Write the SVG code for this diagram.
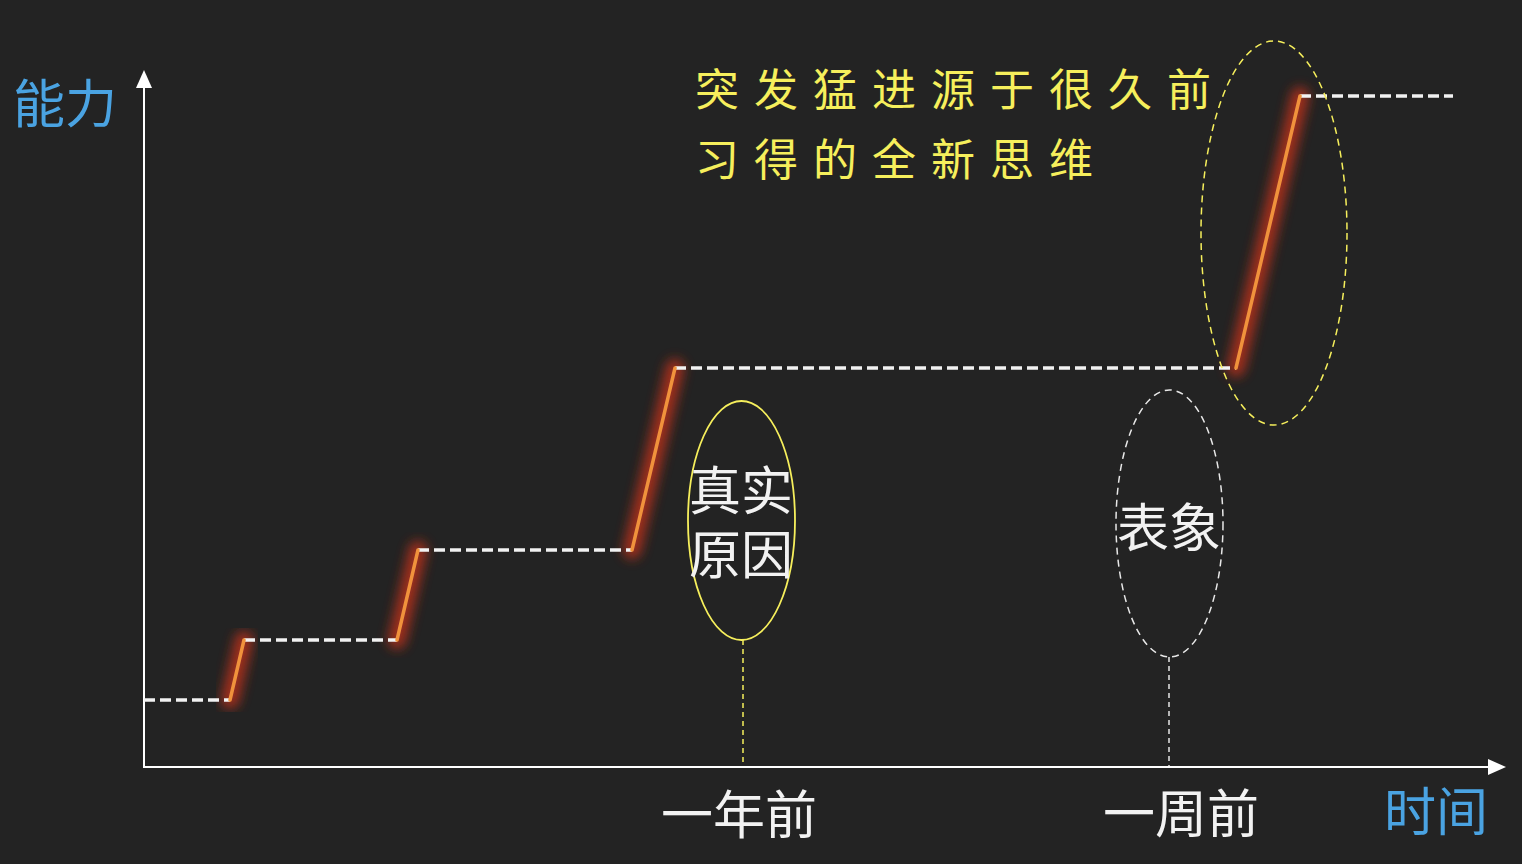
<svg xmlns="http://www.w3.org/2000/svg" width="1522" height="864" viewBox="0 0 1522 864">
<style>
.dash{stroke:#f2f2f2;stroke-width:3.5;stroke-dasharray:11 5;fill:none}
.rise{stroke:#f0923c;stroke-width:3.5;stroke-linecap:round;fill:none}
.glow{stroke:#b8301a;stroke-width:18;stroke-linecap:round;fill:none;opacity:0.85;filter:url(#blur)}
.axis{stroke:#ffffff;stroke-width:2;fill:none}
.cjk{font-family:"Noto Sans CJK SC","Noto Sans",sans-serif}
.blue{fill:#4aa3e2;font-size:52px}
.white{fill:#f2f2f2;font-size:52px}
.yel{fill:#f6ef5c;font-size:44px;letter-spacing:15px}
</style>
<defs>
<filter id="blur" x="-100%" y="-20%" width="300%" height="140%"><feGaussianBlur stdDeviation="6"/></filter>
</defs>
<rect width="1522" height="864" fill="#232323"/>
<g id="axes">
<line class="axis" x1="144" y1="84" x2="144" y2="767"/>
<polygon points="144,70 136,88 152,88" fill="#ffffff"/>
<line class="axis" x1="143" y1="767" x2="1492" y2="767"/>
<polygon points="1506,767 1488,759 1488,775" fill="#ffffff"/>
</g>
<g id="connectors">
<g id="glows">
<line class="glow" x1="230" y1="700" x2="244" y2="640"/>
<line class="glow" x1="397" y1="640" x2="418" y2="550"/>
<line class="glow" x1="632" y1="550" x2="675" y2="368"/>
<line class="glow" x1="1236" y1="368" x2="1300" y2="96"/>
</g>
<line class="dash" x1="144" y1="700" x2="230" y2="700"/>
<line class="dash" x1="244" y1="640" x2="397" y2="640"/>
<line class="dash" x1="418" y1="550" x2="632" y2="550"/>
<line class="dash" x1="675" y1="368" x2="1236" y2="368"/>
<line class="dash" x1="1300" y1="96" x2="1453" y2="96"/>
<line class="rise" x1="230" y1="700" x2="244" y2="640"/>
<line class="rise" x1="397" y1="640" x2="418" y2="550"/>
<line class="rise" x1="632" y1="550" x2="675" y2="368"/>
<line class="rise" x1="1236" y1="368" x2="1300" y2="96"/>
<line x1="743" y1="640" x2="743" y2="766" stroke="#f6ef5c" stroke-width="1.5" stroke-dasharray="5 4"/>
<line x1="1169" y1="657" x2="1169" y2="766" stroke="#e8e8e8" stroke-width="1.5" stroke-dasharray="5 4"/>
</g>
<g id="label-ability"><text class="cjk blue" x="13" y="123">能力</text></g>
<g id="label-time"><text class="cjk blue" x="1384" y="831">时间</text></g>
<g id="label-year"><text class="cjk white" x="661" y="834">一年前</text></g>
<g id="label-week"><text class="cjk white" x="1103" y="833">一周前</text></g>
<g id="note">
<text class="cjk yel" x="695" y="106">突发猛进源于很久前</text>
<text class="cjk yel" x="695" y="176">习得的全新思维</text>
</g>
<g id="node-real-cause">
<ellipse cx="741.5" cy="520.5" rx="53.5" ry="119.5" fill="none" stroke="#f6ef5c" stroke-width="1.8"/>
<text class="cjk white" text-anchor="middle" font-size="52"><tspan x="741" y="510">真实</tspan><tspan x="741" y="574">原因</tspan></text>
</g>
<g id="node-appearance">
<ellipse cx="1169.5" cy="523.5" rx="53.5" ry="133.5" fill="none" stroke="#e8e8e8" stroke-width="1.5" stroke-dasharray="7 5"/>
<text class="cjk white" x="1169" y="547" text-anchor="middle" font-size="52">表象</text>
</g>
<g id="node-breakthrough">
<ellipse cx="1274" cy="233" rx="73" ry="192" fill="none" stroke="#f6ef5c" stroke-width="1.5" stroke-dasharray="7 5"/>
</g>
</svg>
